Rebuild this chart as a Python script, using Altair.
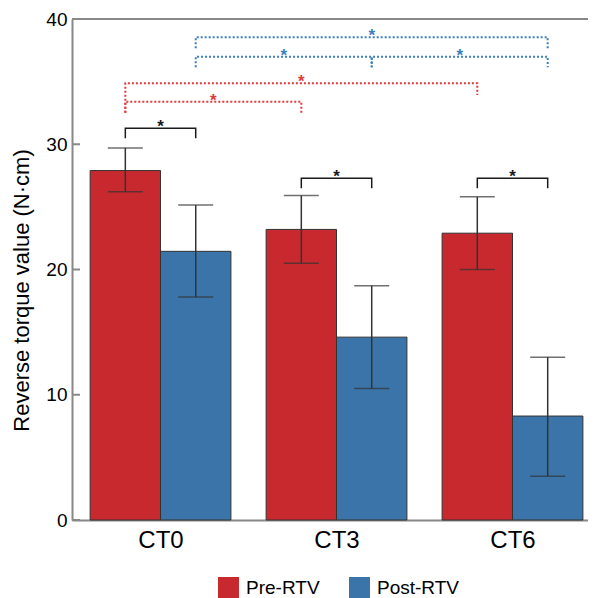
import altair as alt
import pandas as pd

# ---------------- data ----------------
categories = ["CT0", "CT3", "CT6"]
series = ["Pre-RTV", "Post-RTV"]
pre_mean = [27.9, 23.2, 22.9]
pre_upper = [29.7, 25.9, 25.8]
pre_lower = [26.2, 20.5, 20.0]
post_mean = [21.45, 14.6, 8.3]
post_upper = [25.15, 18.7, 13.0]
post_lower = [17.8, 10.5, 3.5]
y_ticks = [0, 10, 20, 30, 40]

# significance brackets: from (category, series) to (category, series),
# bracket top, left leg end, right leg end, group
br_from_cat = ["CT0", "CT3", "CT6", "CT0", "CT0", "CT0", "CT3", "CT0"]
br_from_ser = ["Pre-RTV", "Pre-RTV", "Pre-RTV", "Pre-RTV", "Pre-RTV", "Post-RTV", "Post-RTV", "Post-RTV"]
br_to_cat = ["CT0", "CT3", "CT6", "CT3", "CT6", "CT3", "CT6", "CT6"]
br_to_ser = ["Post-RTV", "Post-RTV", "Post-RTV", "Pre-RTV", "Pre-RTV", "Post-RTV", "Post-RTV", "Post-RTV"]
br_top = [31.27, 27.28, 27.28, 33.4, 34.87, 36.99, 36.99, 38.54]
br_leg1 = [30.48, 26.48, 26.48, 32.52, 32.52, 36.14, 36.14, 37.66]
br_leg2 = [30.48, 26.48, 26.48, 32.52, 33.93, 36.14, 36.14, 37.66]
br_kind = ["within", "within", "within", "pre", "pre", "post", "post", "post"]

# ---------------- styling ----------------
FONT = "Liberation Sans"
BAR_COLORS = ["#C8292E", "#3A74A8"]
SIG_COLORS = {"within": "#1a1a1a", "pre": "#E03A3A", "post": "#3A7EC0"}
AXIS_GREY = "#888888"
BAR_W = 0.4
W, H = 516, 501

ser_off = {"Pre-RTV": -BAR_W / 2, "Post-RTV": BAR_W / 2}
cat_idx = {c: i for i, c in enumerate(categories)}

rows = []
for i, c in enumerate(categories):
    for s, m, lo, hi in [("Pre-RTV", pre_mean[i], pre_lower[i], pre_upper[i]),
                         ("Post-RTV", post_mean[i], post_lower[i], post_upper[i])]:
        xc = i + ser_off[s]
        rows.append(dict(cat=c, series=s, x0=xc - BAR_W / 2, x1=xc + BAR_W / 2,
                         xc=xc, mean=m, lo=lo, hi=hi))
bars_df = pd.DataFrame(rows)
caps_df = pd.concat([bars_df[["xc", "lo"]].rename(columns={"lo": "v"}),
                     bars_df[["xc", "hi"]].rename(columns={"hi": "v"})])

pts, stars = [], []
for k in range(len(br_top)):
    xa = cat_idx[br_from_cat[k]] + ser_off[br_from_ser[k]]
    xb = cat_idx[br_to_cat[k]] + ser_off[br_to_ser[k]]
    col = SIG_COLORS[br_kind[k]]
    for p, (xx, yy) in enumerate([(xa, br_leg1[k]), (xa, br_top[k]),
                                  (xb, br_top[k]), (xb, br_leg2[k])]):
        pts.append(dict(id=k, pt=p, x=xx, y=yy, kind=br_kind[k], col=col))
    stars.append(dict(x=(xa + xb) / 2, y=br_top[k], col=col))
br_df = pd.DataFrame(pts)
star_df = pd.DataFrame(stars)

xscale = alt.Scale(domain=[-0.503, 2.429], nice=False, zero=False)
yscale = alt.Scale(domain=[0, 40], nice=False)

label_expr = " : ".join(
    [f"datum.value == {i} ? '{c}'" for i, c in enumerate(categories)]) + " : ''"
xaxis = alt.Axis(values=list(range(len(categories))), labelExpr=label_expr,
                 ticks=False, grid=False, domainColor=AXIS_GREY, domainWidth=2,
                 labelFontSize=24, labelColor="black", labelPadding=8,
                 labelFont=FONT, title="")
yaxis = alt.Axis(values=y_ticks, ticks=False, grid=False, domainColor=AXIS_GREY,
                 domainWidth=2, labelFontSize=19, labelColor="black",
                 labelPadding=5, labelFont=FONT,
                 title="Reverse torque value (N·cm)", titleFont=FONT,
                 titleFontSize=22, titleFontWeight="normal", titleColor="black",
                 titleAngle=270, titleX=-44, titleY=271, titleAlign="center",
                 titleBaseline="alphabetic")

X = lambda f: alt.X(f, type="quantitative", scale=xscale, axis=xaxis)
Y = lambda f: alt.Y(f, type="quantitative", scale=yscale, axis=yaxis)

bars = alt.Chart(bars_df).mark_bar(stroke="#333333", strokeWidth=1).encode(
    x=X("x0"), x2="x1", y=Y("mean"), y2=alt.datum(0),
    color=alt.Color("series:N", scale=alt.Scale(domain=series, range=BAR_COLORS),
                    legend=alt.Legend(title=None, orient="none", legendX=146,
                                      legendY=558, direction="horizontal",
                                      symbolType="square", symbolSize=441,
                                      symbolStrokeWidth=0, labelFontSize=19,
                                      labelFont=FONT, labelColor="black",
                                      labelOffset=7, columnPadding=29, padding=0)),
)

err = alt.Chart(bars_df).mark_rule(color="#333333", strokeWidth=1.5).encode(
    x=X("xc"), y=Y("lo"), y2="hi")
caps = alt.Chart(caps_df).mark_tick(orient="horizontal", size=35, thickness=1.5,
                                    color="#333333").encode(x=X("xc"), y=Y("v"))

tick_df = pd.DataFrame({"v": y_ticks})
inner_ticks = alt.Chart(tick_df).mark_rule(color=AXIS_GREY, strokeWidth=2).encode(
    x=alt.value(0), x2=alt.value(8), y=Y("v"))
top_border = alt.Chart(pd.DataFrame({"v": [y_ticks[-1]]})).mark_rule(
    color=AXIS_GREY, strokeWidth=2).encode(y=Y("v"))

solid = alt.Chart(br_df[br_df.kind == "within"]).mark_line(
    color="#1a1a1a", strokeWidth=1.5).encode(
    x=X("x"), y=Y("y"), detail="id:N", order="pt:Q")
dotted = alt.Chart(br_df[br_df.kind != "within"]).mark_line(
    strokeWidth=2, strokeDash=[2, 2]).encode(
    x=X("x"), y=Y("y"), detail="id:N", order="pt:Q",
    color=alt.Color("col:N", scale=None))
star_txt = alt.Chart(star_df).mark_text(text="*", fontSize=17, fontWeight="bold",
                                        baseline="middle", font=FONT, dy=-1).encode(
    x=X("x"), y=Y("y"), color=alt.Color("col:N", scale=None))

chart = alt.layer(bars, err, caps, inner_ticks, top_border, solid, dotted, star_txt).properties(
    width=W, height=H,
    padding={"left": 64, "top": 11, "right": 0, "bottom": 79},
    autosize=alt.AutoSizeParams(type="none"),
).configure_view(stroke=None).configure(font=FONT)

chart.save("out.html", embed_options={"renderer": "svg", "actions": False})
